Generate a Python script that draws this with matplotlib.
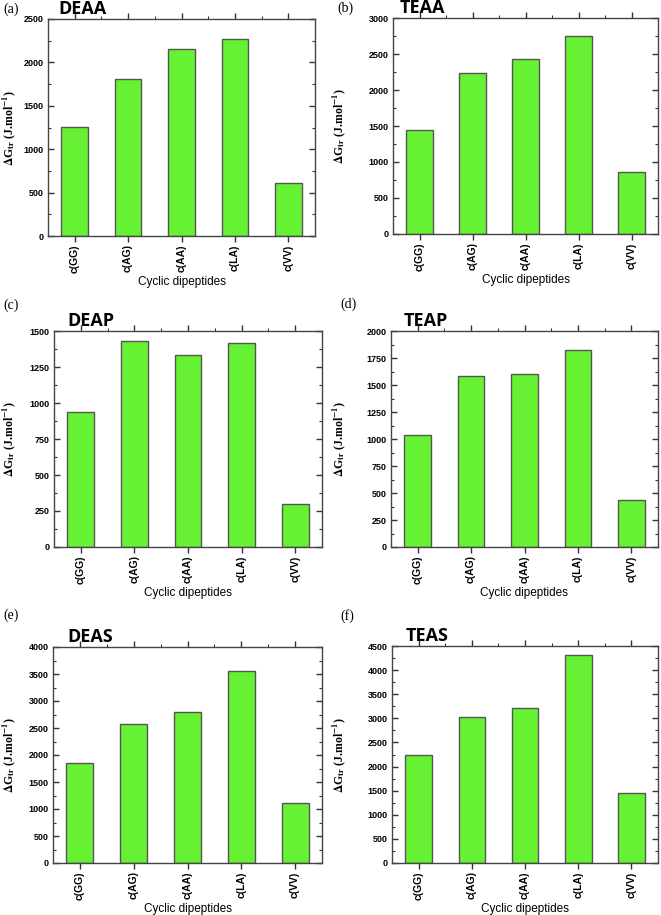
import matplotlib
matplotlib.use('Agg')
import matplotlib.pyplot as plt
from matplotlib.ticker import MultipleLocator

plt.rcParams['mathtext.fontset'] = 'stix'
plt.rcParams['mathtext.default'] = 'bf'

# data
dipeptides = ['c(GG)', 'c(AG)', 'c(AA)', 'c(LA)', 'c(VV)']
deaa = [1260, 1805, 2160, 2275, 605]
teaa = [1440, 2230, 2430, 2755, 855]
deap = [935, 1430, 1330, 1420, 300]
teap = [1035, 1580, 1600, 1820, 435]
deas = [1855, 2580, 2800, 3560, 1115]
teas = [2240, 3025, 3210, 4310, 1460]

panels = [
    # letter, title, values, ymax, step, axes box in pixels (left, top, right, bottom)
    ('(a)', 'DEAA', deaa, 2500, 500, (48, 19, 315, 236)),
    ('(b)', 'TEAA', teaa, 3000, 500, (393, 18, 658, 234)),
    ('(c)', 'DEAP', deap, 1500, 250, (54, 331, 322, 547)),
    ('(d)', 'TEAP', teap, 2000, 250, (391, 331, 658, 547)),
    ('(e)', 'DEAS', deas, 4000, 500, (53, 647, 322, 863)),
    ('(f)', 'TEAS', teas, 4500, 500, (392, 646, 658, 863)),
]
letter_pos = [(3, 3), (337, 2), (3, 299), (340, 298), (3, 609), (340, 609)]
title_x = [58, 400, 67, 404, 67, 406]
ylabel_x = [18, 348, 18, 348, 18, 348]

W, H = 661, 915
fig = plt.figure(figsize=(W / 100, H / 100), dpi=100)

for i, (letter, title, vals, ymax, step, box) in enumerate(panels):
    l, t, r, b = box
    ax = fig.add_axes([l / W, 1 - b / H, (r - l) / W, (b - t) / H])
    ax.bar(range(len(dipeptides)), vals, width=0.5, color='#66f233',
           edgecolor='#555555', linewidth=1.0)
    ax.set_xlim(-0.5, 4.5)
    ax.set_ylim(0, ymax)
    ax.yaxis.set_major_locator(MultipleLocator(step))
    ax.yaxis.set_minor_locator(MultipleLocator(step / 2))
    ax.set_xticks(range(len(dipeptides)))
    ax.set_xticks([k + 0.5 for k in range(4)], minor=True)
    ax.set_xticklabels(dipeptides, rotation=90, fontsize=7.5, fontweight='bold',
                       family='Liberation Sans')
    for lab in ax.get_yticklabels():
        lab.set_fontsize(6.5)
        lab.set_fontweight('bold')
        lab.set_family('Liberation Sans')
    ax.tick_params(axis='y', which='both', direction='in', left=True, right=True,
                   colors='#333333', labelcolor='black', pad=3)
    ax.tick_params(axis='y', which='major', length=4, width=1)
    ax.tick_params(axis='y', which='minor', length=2, width=0.8)
    ax.tick_params(axis='x', which='major', direction='out', length=4, width=1,
                   colors='#333333', labelcolor='black', pad=2)
    ax.tick_params(axis='x', which='minor', bottom=False)
    ax.tick_params(axis='x', which='both', top=True)
    for sp in ax.spines.values():
        sp.set_color('#444444')
        sp.set_linewidth(1.0)

    ax.set_xlabel('Cyclic dipeptides', fontsize=8.5, family='Liberation Sans')
    ax.xaxis.set_label_coords(0.5, -40 / (b - t))
    ax.set_ylabel(r'$\Delta$G$_{tr}$ (J.mol$^{-1}$)', fontsize=8.5,
                  family='Liberation Serif', fontweight='bold')
    ax.yaxis.set_label_coords(ylabel_x[i] / W, 1 - (t + b) / 2 / H,
                              transform=fig.transFigure)

    fig.text(title_x[i] / W, 1 - (t - 5) / H, title, fontsize=13, fontweight='bold',
             family='Open Sans', va='baseline', ha='left')
    lx, ly = letter_pos[i]
    fig.text(lx / W, 1 - ly / H, letter, fontsize=10, family='Liberation Serif',
             va='top', ha='left')

plt.savefig('out.png', dpi=100)
